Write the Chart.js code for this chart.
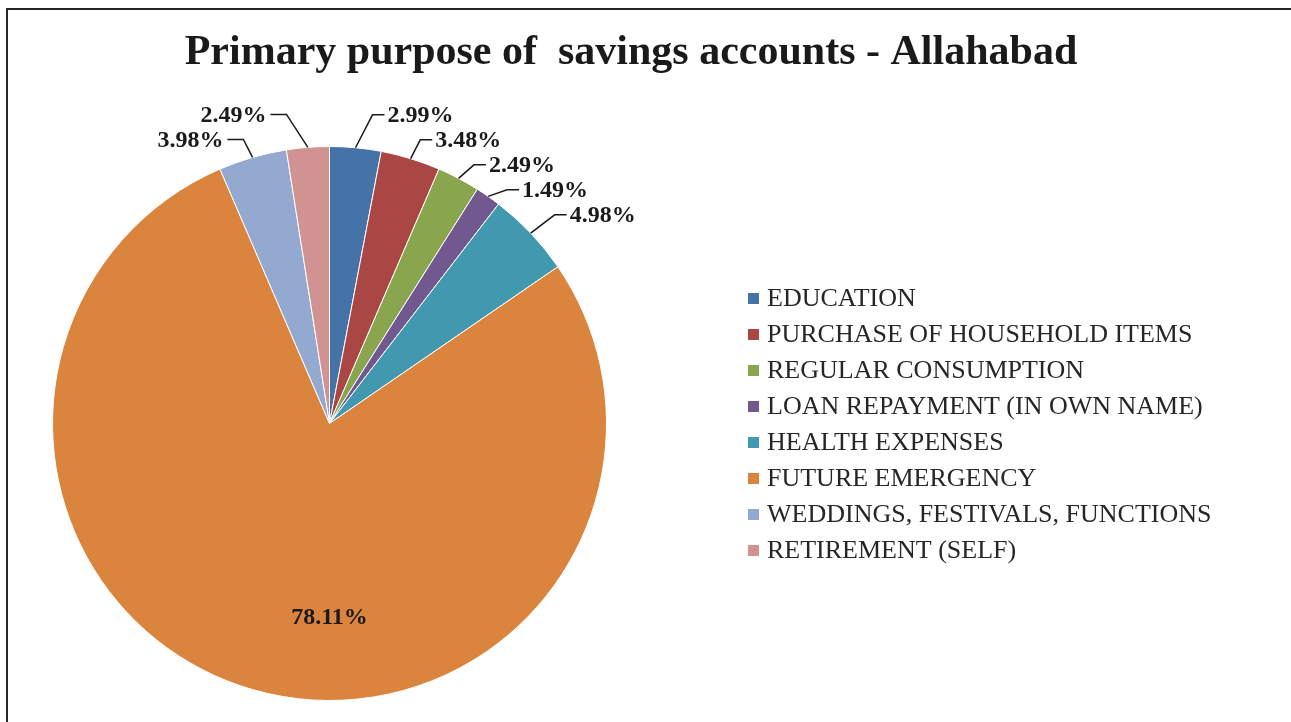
<!DOCTYPE html>
<html>
<head>
<meta charset="utf-8">
<script src="https://cdn.jsdelivr.net/npm/chart.js@4.4.1/dist/chart.umd.min.js"></script>
<style>
  html, body { margin: 0; padding: 0; background: #fff; overflow: hidden; }
  #wrap { position: relative; width: 1291px; height: 722px; }
  #frame { position: absolute; left: 6px; top: 8px; width: 1400px; height: 800px; border: 2px solid #262626; box-sizing: border-box; pointer-events: none; }
  canvas { position: absolute; left: 0; top: 0; }
</style>
</head>
<body>
<div id="wrap">
  <div id="frame"></div>
  <canvas id="chart" width="1291" height="722"></canvas>
</div>
<script>
const chartTitle = "Primary purpose of  savings accounts - Allahabad";

const purposes = [
    "EDUCATION",
    "PURCHASE OF HOUSEHOLD ITEMS",
    "REGULAR CONSUMPTION",
    "LOAN REPAYMENT (IN OWN NAME)",
    "HEALTH EXPENSES",
    "FUTURE EMERGENCY",
    "WEDDINGS, FESTIVALS, FUNCTIONS",
    "RETIREMENT (SELF)"
];

const shares = [2.99, 3.48, 2.49, 1.49, 4.98, 78.11, 3.98, 2.49];

const sliceColors = [
    "#4572A7", "#AA4643", "#89A54E", "#71588F",
    "#4198AF", "#DB843D", "#93A9CF", "#D19392"
];

const serif = '"Liberation Serif", "DejaVu Serif", serif';

// Title, legend and percentage labels drawn on top of the pie
const decorations = {
    id: "decorations",
    afterDatasetsDraw(chart) {
        const ctx = chart.ctx;
        const arcs = chart.getDatasetMeta(0).data;
        const values = chart.data.datasets[0].data;
        const colors = chart.data.datasets[0].backgroundColor;

        ctx.save();

        // title
        ctx.fillStyle = "#1a1a1a";
        ctx.font = "bold 42px " + serif;
        ctx.textAlign = "center";
        ctx.textBaseline = "middle";
        ctx.fillText(chartTitle, 631, 53);

        // labels
        ctx.font = "bold 24px " + serif;
        ctx.strokeStyle = "#1a1a1a";
        ctx.lineWidth = 1.5;
        const sides = { left: [], right: [] };

        arcs.forEach((arc, i) => {
            const p = arc.getProps(["x", "y", "startAngle", "endAngle", "outerRadius"], true);
            const text = values[i].toFixed(2) + "%";
            const mid = (p.startAngle + p.endAngle) / 2;

            if (values[i] > 20) {
                // big slice: label inside, towards the bottom of the pie
                let a = Math.PI / 2;
                if (a < p.startAngle || a > p.endAngle) a = mid;
                ctx.textAlign = "center";
                ctx.fillStyle = "#1a1a1a";
                ctx.fillText(text, p.x + 0.7 * p.outerRadius * Math.cos(a), p.y + 0.7 * p.outerRadius * Math.sin(a));
                return;
            }

            const sx = p.x + p.outerRadius * Math.cos(mid);
            const sy = p.y + p.outerRadius * Math.sin(mid);
            let ex = p.x + (p.outerRadius + 33) * Math.cos(mid);
            let ey = p.y + (p.outerRadius + 33) * Math.sin(mid);
            const right = Math.cos(mid) >= 0;
            if (Math.abs(ex - p.x) < 43) ex = p.x + (right ? 43 : -43);
            sides[right ? "right" : "left"].push({ sx, sy, ex, ey, text, right });
        });

        Object.values(sides).forEach(list => {
            list.sort((a, b) => a.ey - b.ey);
            for (let i = 1; i < list.length; i++) {
                list[i].ey = Math.max(list[i].ey, list[i - 1].ey + 25);
            }
            list.forEach(l => {
                const hx = l.ex + (l.right ? 12 : -16);
                ctx.beginPath();
                ctx.moveTo(l.sx, l.sy);
                ctx.lineTo(l.ex, l.ey);
                ctx.lineTo(hx, l.ey);
                ctx.stroke();
                ctx.textAlign = l.right ? "left" : "right";
                ctx.fillStyle = "#1a1a1a";
                ctx.fillText(l.text, hx + (l.right ? 3 : -4), l.ey + 1);
            });
        });

        // legend
        ctx.font = "26px " + serif;
        ctx.textAlign = "left";
        chart.data.labels.forEach((name, i) => {
            const y = 298 + i * 36;
            ctx.fillStyle = colors[i];
            ctx.fillRect(748, y - 5, 11, 11);
            ctx.fillStyle = "#262626";
            ctx.fillText(name, 767, y + 1);
        });

        ctx.restore();
    }
};

new Chart(document.getElementById("chart"), {
    type: "pie",
    data: {
        labels: purposes,
        datasets: [{
            data: shares,
            backgroundColor: sliceColors,
            borderColor: "#ffffff",
            borderWidth: 1,
            hoverOffset: 0
        }]
    },
    options: {
        responsive: false,
        animation: false,
        devicePixelRatio: 1,
        layout: { padding: { left: 52, right: 684, top: 146, bottom: 21 } },
        plugins: {
            legend: { display: false },
            title: { display: false },
            tooltip: { enabled: false }
        }
    },
    plugins: [decorations]
});
</script>
</body>
</html>
